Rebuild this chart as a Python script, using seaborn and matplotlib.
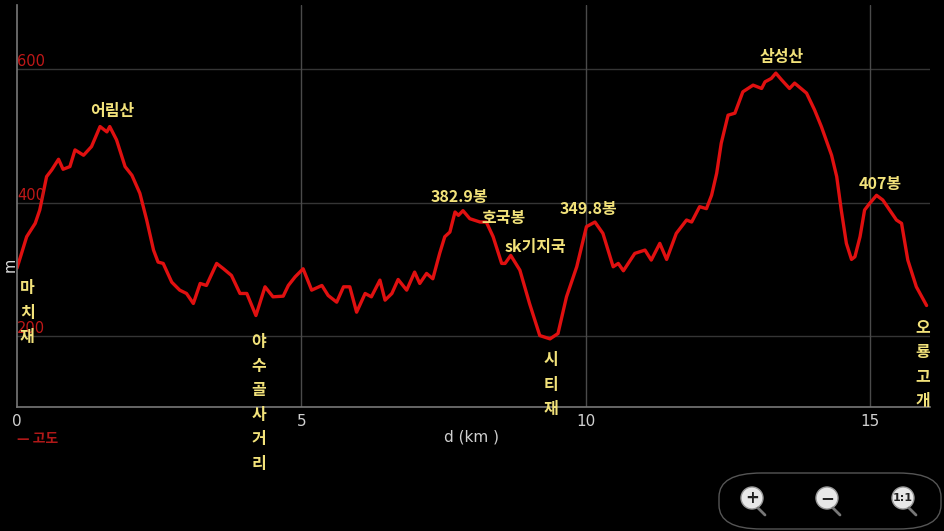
import numpy as np
import pandas as pd
import matplotlib
matplotlib.use("Agg")
import matplotlib.pyplot as plt
from matplotlib.patches import FancyBboxPatch, Circle
import matplotlib.transforms as mtransforms
import seaborn as sns

# elevation profile (distance km, elevation m)
dist_km = [0.00, 0.17, 0.32, 0.40, 0.52, 0.61, 0.73, 0.81, 0.93, 1.02, 1.17, 1.31,
           1.46, 1.58, 1.63, 1.75, 1.90, 2.02, 2.16, 2.28, 2.40, 2.48, 2.57, 2.72,
           2.86, 2.98, 3.10, 3.22, 3.33, 3.51, 3.63, 3.77, 3.92, 4.04, 4.20, 4.36,
           4.50, 4.68, 4.77, 4.89, 5.03, 5.18, 5.36, 5.47, 5.62, 5.74, 5.85, 5.97,
           6.12, 6.23, 6.38, 6.47, 6.59, 6.70, 6.85, 6.99, 7.08, 7.20, 7.31, 7.43,
           7.52, 7.61, 7.70, 7.76, 7.84, 7.96, 8.14, 8.25, 8.37, 8.52, 8.58, 8.68,
           8.84, 9.01, 9.19, 9.37, 9.51, 9.66, 9.84, 10.01, 10.16, 10.30, 10.48, 10.57,
           10.66, 10.86, 11.04, 11.15, 11.30, 11.42, 11.59, 11.77, 11.86, 12.00, 12.12, 12.21,
           12.30, 12.38, 12.50, 12.62, 12.76, 12.94, 13.09, 13.15, 13.26, 13.34, 13.44, 13.58,
           13.67, 13.88, 14.02, 14.14, 14.32, 14.41, 14.49, 14.58, 14.67, 14.73, 14.82, 14.90,
           14.99, 15.11, 15.22, 15.34, 15.46, 15.55, 15.66, 15.81, 15.99]
elev_m = [302, 349, 369, 389, 439, 449, 465, 450, 454, 479, 471, 484,
          514, 506, 514, 494, 454, 441, 414, 374, 329, 311, 309, 281,
          269, 264, 249, 279, 276, 309, 301, 291, 264, 264, 231, 274,
          259, 260, 276, 289, 301, 269, 276, 261, 251, 274, 274, 236,
          264, 259, 284, 254, 264, 285, 269, 296, 279, 294, 286, 324,
          349, 356, 386, 381, 388, 376, 371, 371, 349, 309, 309, 321,
          299, 249, 201, 196, 204, 259, 304, 364, 371, 354, 304, 309,
          298, 324, 329, 314, 339, 315, 354, 374, 371, 394, 391, 411,
          444, 489, 531, 534, 566, 576, 571, 581, 586, 594, 584, 571,
          579, 564, 539, 514, 471, 439, 389, 339, 315, 319, 349, 389,
          399, 411, 404, 389, 374, 369, 314, 274, 246]

# place-name labels
peak_names = ["어림산", "382.9봉", "호국봉", "sk기지국", "349.8봉", "삼성산", "407봉"]
peak_km = [1.67, 7.77, 8.56, 9.12, 10.05, 13.45, 15.18]
peak_elev = [525, 397, 365, 321, 379, 606, 416]

pass_names = ["마치재", "야수골사거리", "시티재", "오룡고개"]
pass_km = [0.18, 4.25, 9.39, 15.93]
pass_elev = [284, 204, 176, 225]

yticks = [200, 400, 600]
xticks = [0, 5, 10, 15]

sns.set_theme(style="dark")
plt.rcParams['font.family'] = ['Noto Sans CJK KR', 'DejaVu Sans']

df = pd.DataFrame({"d": dist_km, "elev": elev_m})

fig = plt.figure(figsize=(9.45, 5.31), dpi=100, facecolor="black")
ax = fig.add_axes([17 / 945, 1 - 407 / 531, 913 / 945, 402 / 531])
ax.set_facecolor("black")

sns.lineplot(data=df, x="d", y="elev", ax=ax, color="#e01010", linewidth=2.4)

ax.set_xlim(0, 16.05)
ax.set_ylim(94, 696)

# grid lines
for v in yticks:
    ax.axhline(v, color="#353535", linewidth=1, zorder=0)
for v in xticks[1:]:
    ax.axvline(v, color="#4a4a4a", linewidth=1, zorder=0)
for s in ["top", "right"]:
    ax.spines[s].set_visible(False)
for s in ["left", "bottom"]:
    ax.spines[s].set_color("#777777")
    ax.spines[s].set_linewidth(1.2)

ax.set_xticks(xticks)
ax.set_xticklabels([str(t) for t in xticks], color="#d0d0d0", fontsize=11,
                   family="DejaVu Sans")
ax.tick_params(axis="x", length=4, color="#777777", pad=1)
ax.set_yticks([])
ax.set_xlabel("")
ax.set_ylabel("")

# red y tick labels drawn inside the plot
trans = mtransforms.blended_transform_factory(ax.transAxes, ax.transData)
for v in yticks:
    ax.text(0.0, v, str(v), color="#c01818", fontsize=10.5, family="DejaVu Sans",
            transform=trans, ha="left", va="bottom")

yellow = "#f2e27a"
for name, x, y in zip(peak_names, peak_km, peak_elev):
    ax.text(x, y, name, color=yellow, fontsize=11.5, fontweight="bold",
            ha="center", va="bottom")
for name, x, y in zip(pass_names, pass_km, pass_elev):
    ax.text(x, y, "\n".join(name), color=yellow, fontsize=11.5, fontweight="bold",
            ha="center", va="top", linespacing=1.65)

fig.text(10 / 945, 1 - 265 / 531, "m", color="#e0e0e0", fontsize=10.5,
         rotation=90, ha="center", va="center", family="DejaVu Sans")
fig.text(472 / 945, 1 - 437 / 531, "d (km )", color="#d0d0d0", fontsize=11,
         ha="center", va="center", family="DejaVu Sans")
fig.text(17 / 945, 1 - 439 / 531, "— 고도", color="#b01818", fontsize=10,
         ha="left", va="center", fontweight="bold")

# zoom control box in the lower right corner
box = FancyBboxPatch((719 / 945, 2 / 531), 222 / 945, 56 / 531,
                     boxstyle="round,pad=0,rounding_size=0.045",
                     transform=fig.transFigure, facecolor="black",
                     edgecolor="#555555", linewidth=1)
fig.patches.append(box)
for cx, sym in zip([752, 827, 903], ["+", "−", "1:1"]):
    fig.lines.append(plt.Line2D([(cx + 6) / 945, (cx + 13) / 945],
                                [1 - 508 / 531, 1 - 515 / 531],
                                transform=fig.transFigure, color="#777777", linewidth=2))
    c = Circle((cx / 100, 5.31 - 498 / 100), 0.11, transform=fig.dpi_scale_trans,
               facecolor="#e8e8e8", edgecolor="#999999")
    fig.patches.append(c)
    fig.text(cx / 945, 1 - 498 / 531, sym, color="#222222",
             fontsize=12 if sym != "1:1" else 8, fontweight="bold",
             ha="center", va="center", family="DejaVu Sans")

fig.savefig("out.png", dpi=100, facecolor="black")
